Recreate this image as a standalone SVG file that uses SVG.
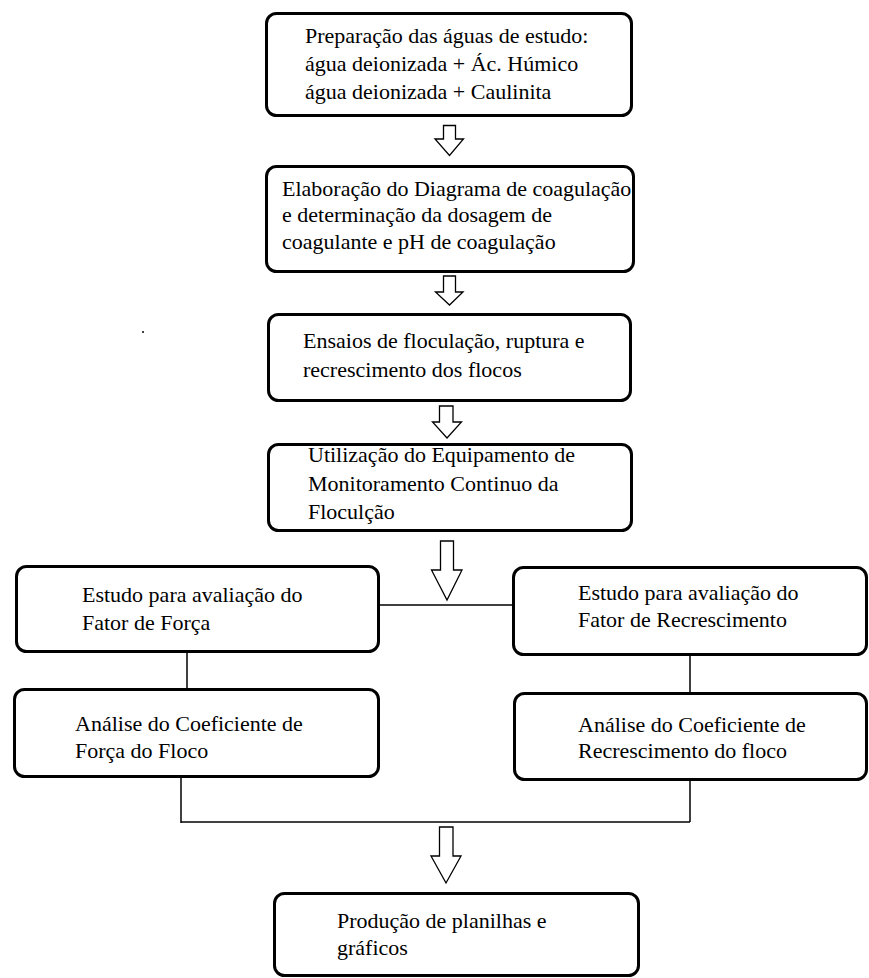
<svg xmlns="http://www.w3.org/2000/svg" width="869" height="978" viewBox="0 0 869 978">
<style>
.box{fill:#fff;stroke:#000;stroke-width:3}
.t{font-family:"Liberation Serif","Times New Roman",serif;font-size:22px;fill:#000}
.ln{stroke:#000;stroke-width:1.5;fill:none}
.ar{fill:#fff;stroke:#000;stroke-width:1.3;stroke-linejoin:miter}
</style>
<rect x="0" y="0" width="869" height="978" fill="#fff"/>
<circle cx="143" cy="332" r="1" fill="#000"/>
<g id="connectors">
<path class="ln" d="M380 605H512"/>
<path class="ln" d="M187 653V688"/>
<path class="ln" d="M690 656V692"/>
<path class="ln" d="M181 778V823"/>
<path class="ln" d="M690 781V822"/>
<path class="ln" d="M181 822H690"/>
<path class="ar" d="M443.5 125.5H455.5V139H463.5L449.5 155.5L435 139H443.5Z"/>
<path class="ar" d="M443.5 276H455.5V292H463L449.5 305L435.5 292H443.5Z"/>
<path class="ar" d="M439.5 406H453V422H461.5L447 438L432.5 422H439.5Z"/>
<path class="ar" d="M440.5 541H453.5V570H462L447 600L431.5 570H440.5Z"/>
<path class="ar" d="M439.5 827H453V856H461L446 883L431 856H439.5Z"/>
</g>
<g id="n1">
<rect class="box" x="266.5" y="13.5" width="365" height="102" rx="10"/>
<text class="t" x="305" y="42.5">Preparação das águas de estudo:</text>
<text class="t" x="305" y="70.5">água deionizada + Ác. Húmico</text>
<text class="t" x="305" y="99">água deionizada + Caulinita</text>
</g>
<g id="n2">
<rect class="box" x="266.5" y="166.5" width="367" height="105" rx="10"/>
<text class="t" x="282" y="195.5">Elaboração do Diagrama de coagulação</text>
<text class="t" x="282" y="222">e determinação da dosagem de</text>
<text class="t" x="282" y="249">coagulante e pH de coagulação</text>
</g>
<g id="n3">
<rect class="box" x="268.5" y="314.5" width="362" height="86" rx="10"/>
<text class="t" x="303" y="348">Ensaios de floculação, ruptura e</text>
<text class="t" x="303" y="377">recrescimento dos flocos</text>
</g>
<g id="n4">
<rect class="box" x="268.5" y="444.5" width="363" height="86" rx="10"/>
<text class="t" x="308" y="462">Utilização do Equipamento de</text>
<text class="t" x="308" y="491">Monitoramento Continuo da</text>
<text class="t" x="308" y="519">Floculção</text>
</g>
<g id="n5">
<rect class="box" x="16.5" y="566.5" width="362" height="85" rx="10"/>
<text class="t" x="82" y="602">Estudo para avaliação do</text>
<text class="t" x="82" y="630">Fator de Força</text>
</g>
<g id="n6">
<rect class="box" x="513.5" y="567.5" width="353" height="87" rx="10"/>
<text class="t" x="578" y="600">Estudo para avaliação do</text>
<text class="t" x="578" y="627">Fator de Recrescimento</text>
</g>
<g id="n7">
<rect class="box" x="14.5" y="689.5" width="364" height="87" rx="10"/>
<text class="t" x="75" y="731">Análise do Coeficiente de</text>
<text class="t" x="75" y="758">Força do Floco</text>
</g>
<g id="n8">
<rect class="box" x="514.5" y="693.5" width="352" height="86" rx="10"/>
<text class="t" x="578" y="732">Análise do Coeficiente de</text>
<text class="t" x="578" y="758">Recrescimento do floco</text>
</g>
<g id="n9">
<rect class="box" x="274.5" y="893.5" width="364" height="82" rx="10"/>
<text class="t" x="337" y="928">Produção de planilhas e</text>
<text class="t" x="337" y="955">gráficos</text>
</g>
</svg>
